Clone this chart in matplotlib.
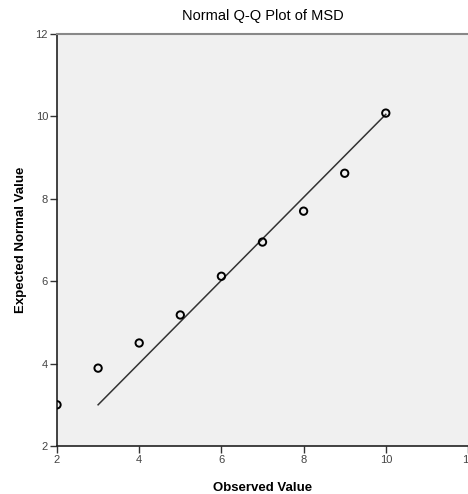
import matplotlib
matplotlib.use("Agg")
import matplotlib.pyplot as plt

observed = [2, 3, 4, 5, 6, 7, 8, 9, 10]
expected = [3.0, 3.89, 4.5, 5.18, 6.12, 6.95, 7.70, 8.62, 10.08]
line_x = [3, 10]
line_y = [3.0, 10.05]
xticks = [2, 4, 6, 8, 10, 12]
yticks = [2, 4, 6, 8, 10, 12]

plt.rcParams['font.family'] = ['Liberation Sans', 'DejaVu Sans']
fig = plt.figure(figsize=(4.68, 4.94), dpi=100)
ax = fig.add_axes([57/468, 48/494, 1 - 57/468, 412/494])
ax.set_facecolor('#F0F0F0')
ax.plot(line_x, line_y, color='#333333', lw=1.1)
ax.scatter(observed, expected, s=28, facecolors='none', edgecolors='black', linewidths=1.4, zorder=3)
ax.set_xlim(2, 12)
ax.set_ylim(2, 12)
ax.set_xticks(xticks)
ax.set_yticks(yticks)
ax.tick_params(direction='out', length=5, width=1, colors='#333333', labelsize=8, labelcolor='#444444', pad=1.5)
for s in ['left', 'bottom']:
    ax.spines[s].set_color('#222222')
    ax.spines[s].set_linewidth(1.2)
ax.spines['top'].set_color('#888888')
ax.spines['top'].set_linewidth(1.5)
ax.spines['right'].set_visible(False)
ax.set_title('Normal Q-Q Plot of MSD', fontsize=10.5, pad=10)
ax.set_xlabel('Observed Value', fontsize=9.5, fontweight='bold', labelpad=12)
ax.set_ylabel('Expected Normal Value', fontsize=9.5, fontweight='bold', labelpad=6)
fig.savefig('out.png', dpi=100)
